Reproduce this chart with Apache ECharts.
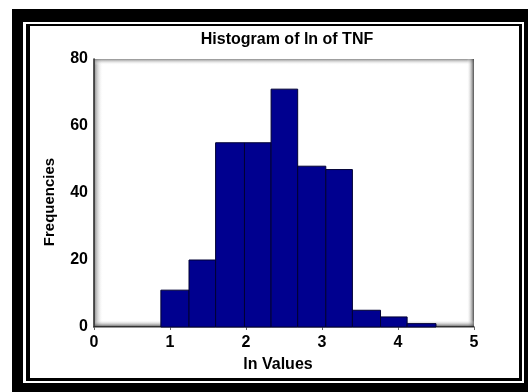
<!DOCTYPE html>
<html>
<head>
<meta charset="utf-8">
<script src="https://cdn.jsdelivr.net/npm/echarts@6/dist/echarts.min.js"></script>
<style>html,body{margin:0;padding:0;background:#fff}#c{width:528px;height:392px}</style>
</head>
<body>
<div id="c"></div>
<script>
// Data
var binEdges = [0.88, 1.25, 1.60, 1.98, 2.33, 2.68, 3.05, 3.40, 3.77, 4.12, 4.50];
var counts = [11, 20, 55, 55, 71, 48, 47, 5, 3, 1];
var xTicks = [0, 1, 2, 3, 4, 5];
var yTicks = [0, 20, 40, 60, 80];
var titleText = 'Histogram of ln of TNF';
var xName = 'ln Values';
var yName = 'Frequencies';

var histData = counts.map(function (c, i) { return [binEdges[i], binEdges[i + 1], c]; });

var chart = echarts.init(document.getElementById('c'), null, {renderer: 'canvas'});
var FONT = 'Liberation Sans, Arial, sans-serif';
var G = {l: 94, t: 59, r: 474, b: 327};

function grad(x, y, w, h, dir, c0, c1) {
  var lg = dir === 'h'
    ? new echarts.graphic.LinearGradient(0, 0, 1, 0, [{offset: 0, color: c0}, {offset: 1, color: c1}])
    : new echarts.graphic.LinearGradient(0, 0, 0, 1, [{offset: 0, color: c0}, {offset: 1, color: c1}]);
  return {type: 'rect', shape: {x: x, y: y, width: w, height: h}, style: {fill: lg}, z: -5, silent: true};
}

var option = {
  animation: false,
  backgroundColor: '#fff',
  title: {
    text: titleText,
    left: 282, top: 27, textAlign: 'center',
    textStyle: {fontFamily: FONT, fontWeight: 'bold', fontSize: 16, color: '#000'}
  },
  graphic: [
    {type: 'rect', shape: {x: 12, y: 9, width: 516, height: 383}, style: {fill: '#000'}, z: -20, silent: true},
    {type: 'rect', shape: {x: 23, y: 22, width: 501, height: 361}, style: {fill: '#fff'}, z: -19, silent: true},
    {type: 'rect', shape: {x: 26, y: 24, width: 496, height: 357}, style: {fill: '#000'}, z: -18, silent: true},
    {type: 'rect', shape: {x: 30, y: 26, width: 489, height: 352}, style: {fill: '#fff'}, z: -17, silent: true},
    grad(G.l, G.t, 9, G.b - G.t, 'h', 'rgba(120,120,120,0.9)', 'rgba(255,255,255,0)'),
    grad(G.l, G.t, G.r - G.l, 6, 'v', 'rgba(120,120,120,0.85)', 'rgba(255,255,255,0)'),
    grad(G.r - 7, G.t, 7, G.b - G.t, 'h', 'rgba(255,255,255,0)', 'rgba(60,60,60,0.9)'),
    grad(G.l, G.b - 7, G.r - G.l, 7, 'v', 'rgba(255,255,255,0)', 'rgba(60,60,60,0.9)')
  ],
  grid: {left: G.l, top: G.t, right: 528 - G.r, bottom: 392 - G.b, containLabel: false},
  xAxis: [{
    type: 'value', min: xTicks[0], max: xTicks[xTicks.length - 1], interval: 1,
    name: xName, nameLocation: 'middle', nameGap: 30,
    nameTextStyle: {fontFamily: FONT, fontWeight: 'bold', fontSize: 16, color: '#000', padding: [0, 12, 0, 0]},
    axisLine: {show: true, lineStyle: {color: '#222', width: 1.5}},
    axisTick: {show: false},
    splitLine: {show: false},
    axisLabel: {margin: 8, fontFamily: FONT, fontWeight: 'bold', fontSize: 16, color: '#000'}
  }, {
    type: 'value', position: 'top', min: xTicks[0], max: xTicks[xTicks.length - 1], interval: 1,
    axisLine: {show: true, lineStyle: {color: '#999', width: 1}},
    axisTick: {show: true, inside: true, length: 3, lineStyle: {color: '#666'}},
    axisLabel: {show: false}, splitLine: {show: false}
  }],
  yAxis: [{
    type: 'value', min: yTicks[0], max: yTicks[yTicks.length - 1], interval: 20,
    name: yName, nameLocation: 'middle', nameGap: 37,
    nameTextStyle: {fontFamily: FONT, fontWeight: 'bold', fontSize: 15, color: '#000', padding: [0, 18, 0, 0]},
    axisLine: {show: true, lineStyle: {color: '#aaa', width: 1}},
    axisTick: {show: false},
    splitLine: {show: false},
    axisLabel: {margin: 6, fontFamily: FONT, fontWeight: 'bold', fontSize: 16, color: '#000'}
  }, {
    type: 'value', position: 'right', min: yTicks[0], max: yTicks[yTicks.length - 1], interval: 20,
    axisLine: {show: true, lineStyle: {color: '#222', width: 1.5}},
    axisTick: {show: false}, axisLabel: {show: false}, splitLine: {show: false}
  }],
  series: [{
    type: 'custom',
    xAxisIndex: 0, yAxisIndex: 0,
    data: histData,
    encode: {x: [0, 1], y: 2},
    renderItem: function (params, api) {
      var p0 = api.coord([api.value(0), 0]);
      var p1 = api.coord([api.value(1), api.value(2)]);
      return {
        type: 'rect',
        shape: {x: p0[0], y: p1[1], width: p1[0] - p0[0], height: p0[1] - p1[1]},
        style: {fill: '#00008f', stroke: '#000033', lineWidth: 1}
      };
    },
    z: 3
  }]
};
chart.setOption(option);
</script>
</body>
</html>
